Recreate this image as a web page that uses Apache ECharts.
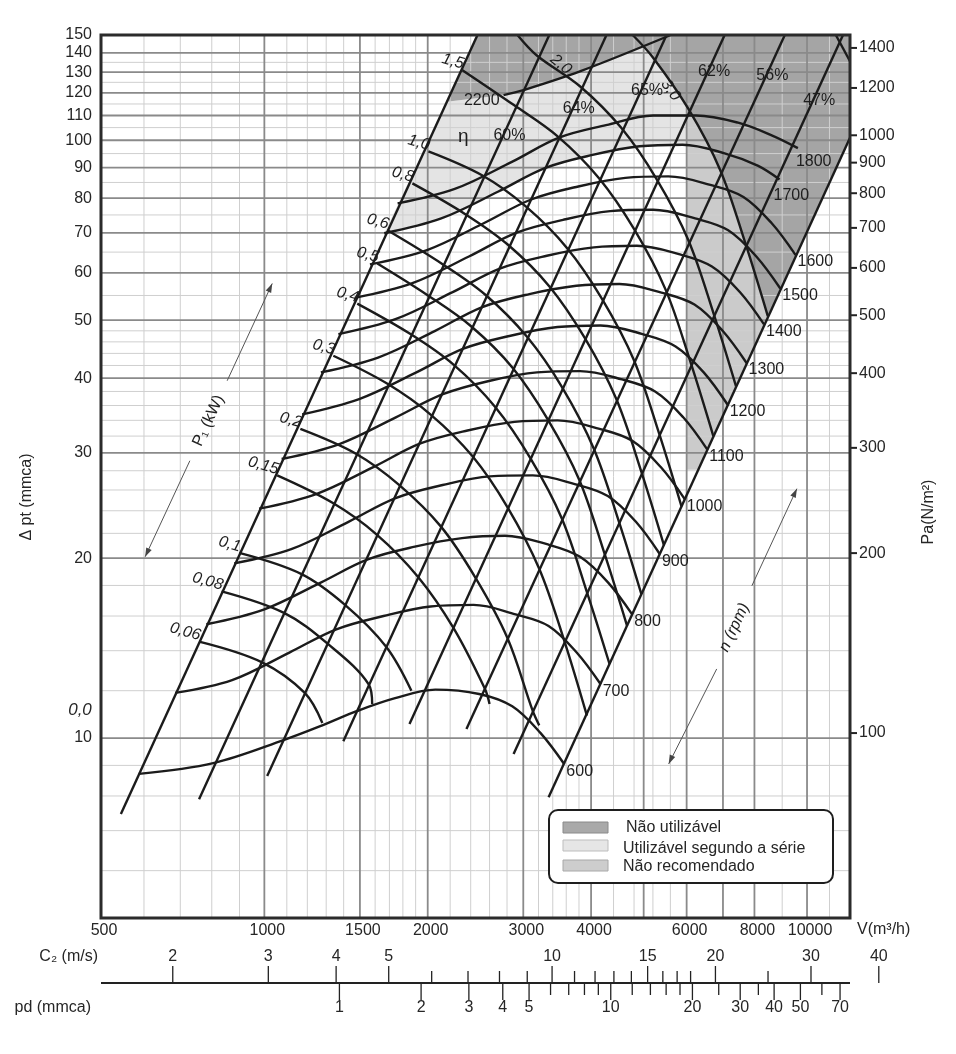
<!DOCTYPE html>
<html>
<head>
<meta charset="utf-8">
<title>Curva do ventilador</title>
<script src="https://cdn.jsdelivr.net/npm/echarts@6/dist/echarts.min.js"></script>
<style>
html,body{margin:0;padding:0;background:#ffffff;}
#chart{width:956px;height:1054px;}
</style>
</head>
<body>
<div id="chart"></div>
<script>
// ================= DATA =================
const X_RANGE = [500, 12000];      // V (m3/h)
const Y_RANGE = [5, 150];          // delta pt (mmca)
const PA_PER_MMCA = 9.81;          // right axis Pa = mmca * 9.81
const C2_PER_FLOW = 0.00295;       // C2 (m/s) per m3/h
const PD_REF_FLOW = 1375;          // flow where pd = 1 mmca

const xTicks = [500, 1000, 1500, 2000, 3000, 4000, 6000, 8000, 10000];
const yTicks = [10, 20, 30, 40, 50, 60, 70, 80, 90, 100, 110, 120, 130, 140, 150];
const paTicks = [100, 200, 300, 400, 500, 600, 700, 800, 900, 1000, 1200, 1400];

const xGridMajor = [1000, 1500, 2000, 3000, 4000, 5000, 6000, 7000, 8000, 10000];
const xGridMinor = [600, 700, 800, 900, 1100, 1200, 1300, 1400, 1600, 1700, 1800, 1900,
  2200, 2400, 2600, 2800, 3200, 3400, 3600, 3800, 4400, 4800, 5200, 5600, 9000, 11000];
const yGridMajor = [10, 20, 30, 40, 50, 60, 70, 80, 90, 100, 110, 120, 130, 140];
const yGridMinor = [6, 7, 8, 9, 12, 14, 16, 18, 22, 24, 26, 28, 32, 34, 36, 38, 42, 44, 46, 48,
  55, 65, 75, 85, 95, 105, 115, 125, 135];

const c2Major = [2, 3, 4, 5, 10, 15, 20, 30, 40];
const c2Minor = [6, 7, 8, 9, 11, 12, 13, 14, 16, 17, 18, 25];
const pdMajor = [1, 2, 3, 4, 5, 10, 20, 30, 40, 50, 70];
const pdMinor = [6, 7, 8, 9, 12, 14, 16, 18, 25, 35, 60];

// fan speed curves n (rpm): [V m3/h, delta pt mmca]
const n600 = [[587,8.71],[805,9.08],[1088,9.93],[1279,10.5],[1483,11.1],[1735,11.65],[2066,12.05],[2488,11.85],[2863,11.3],[3226,10.2],[3571,9.04]];
const n700 = [[685,11.9],[872,12.5],[1112,13.9],[1357,15.2],[1658,16.0],[2024,16.6],[2429,16.7],[2903,16.1],[3340,15.4],[3763,13.9],[4166,12.3]];
const n800 = [[782,15.5],[997,16.4],[1270,18.2],[1551,19.9],[1894,20.9],[2313,21.6],[2776,21.8],[3318,21.1],[3817,20.1],[4301,18.2],[4762,16.1]];
const n900 = [[880,19.6],[1121,20.7],[1429,23.0],[1745,25.2],[2131,26.5],[2602,27.4],[3123,27.5],[3732,26.6],[4294,25.4],[4838,23.0],[5357,20.3]];
const n1000 = [[978,24.2],[1246,25.6],[1588,28.4],[1939,31.1],[2368,32.7],[2891,33.8],[3470,34.0],[4147,32.9],[4771,31.4],[5376,28.4],[5952,25.1]];
const n1100 = [[1076,29.3],[1371,31.0],[1747,34.4],[2133,37.6],[2605,39.6],[3180,40.9],[3817,41.1],[4562,39.8],[5248,38.0],[5914,34.4],[6547,30.4]];
const n1200 = [[1174,34.8],[1495,36.9],[1906,40.9],[2327,44.8],[2842,47.1],[3469,48.7],[4164,49.0],[4976,47.4],[5725,45.2],[6451,40.9],[7142,36.1]];
const n1300 = [[1271,40.9],[1620,43.3],[2064,48.0],[2521,52.6],[3078,55.3],[3758,57.1],[4511,57.5],[5391,55.6],[6202,53.1],[6989,48.0],[7738,42.4]];
const n1400 = [[1369,47.4],[1744,50.2],[2223,55.7],[2715,61.0],[3315,64.1],[4047,66.2],[4858,66.6],[5806,64.5],[6679,61.5],[7526,55.7],[8333,49.2]];
const n1500 = [[1467,54.5],[1869,57.6],[2382,63.9],[2909,70.0],[3552,73.6],[4337,76.1],[5205,76.5],[6221,74.0],[7157,70.7],[8064,63.9],[8928,56.5]];
const n1600 = [[1565,62.0],[1994,65.5],[2541,72.7],[3102,79.6],[3789,83.7],[4626,86.5],[5552,87.0],[6635,84.2],[7634,80.4],[8602,72.7],[9523,64.3]];
const n1700 = [[1663,69.9],[2118,74.0],[2700,82.1],[3296,89.9],[4026,94.5],[4915,97.7],[5899,98.3],[7050,95.1],[8111,90.7],[8900,86.0]];
const n1800 = [[1760,78.4],[2243,82.9],[2858,92.0],[3490,101],[4262,106],[5204,110],[6246,110],[7465,107],[8588,102],[9620,97.0]];
const n2200a = [[2759,119],[3003,121.3],[3825,130.5],[5609,150]];
const n2200b = [[11300,150],[12000,135.6]];
const rpmNames = ['600','700','800','900','1000','1100','1200','1300','1400','1500','1600','1700','1800'];

// efficiency / system lines (straight in log-log)
const effLB = [[544,7.46],[2470,150]];
const eff60 = [[758,7.90],[3350,150]];
const eff64 = [[1012,8.64],[4270,150]];
const eff65 = [[1398,9.88],[5510,150]];
const eff62 = [[1851,10.56],[7050,150]];
const eff56 = [[2357,10.35],[9100,150]];
const eff47 = [[2879,9.40],[11650,150]];
const effRB = [[3340,7.96],[12000,101]];
const effNames = ['60%','64%','65%','62%','56%','47%'];
const effLabelDp = [102, 113, 121, 130.5, 128.5, 116.7];

// absorbed power curves P1 (kW)
const pw006 = [[758,14.5],[988,13.4],[1187,11.9],[1279,10.6]];
const pw008 = [[834,17.6],[1087,16.2],[1306,14.4],[1557,12.3],[1580,11.4]];
const pw01 = [[899,20.4],[1171,18.8],[1408,16.7],[1678,14.2],[1866,12.0]];
const pw015 = [[1056,27.5],[1340,24.7],[1611,21.9],[1920,18.6],[2229,15.3],[2548,12.1],[2600,11.4]];
const pw02 = [[1165,32.9],[1475,29.9],[1773,26.5],[2114,22.6],[2453,18.5],[2805,14.7],[3123,11.1],[3210,10.5]];
const pw03 = [[1340,43.6],[1689,39.1],[2030,34.7],[2419,29.6],[2808,24.3],[3210,19.2],[3574,14.5],[3930,10.9]];
const pw04 = [[1483,53.3],[1859,47.4],[2234,42.1],[2663,35.8],[3091,29.4],[3533,23.3],[3934,17.5],[4326,13.3]];
const pw05 = [[1615,62.2],[2002,55.0],[2407,48.8],[2869,41.6],[3330,34.1],[3807,27.0],[4238,20.3],[4660,15.4]];
const pw06 = [[1686,70.7],[2127,62.1],[2557,55.1],[3048,46.9],[3538,38.6],[4045,30.5],[4503,23.0],[4952,17.4]];
const pw08 = [[1874,84.7],[2342,75.3],[2815,66.8],[3355,56.9],[3894,46.7],[4452,36.9],[4957,27.8],[5450,21.0]];
const pw10 = [[2006,95.8],[2523,87.3],[3032,77.5],[3614,66.0],[4195,54.2],[4796,42.9],[5340,32.3],[5871,24.4]];
const pw15 = [[2317,131],[2888,114.4],[3471,101.5],[4137,86.4],[4802,71.0],[5490,56.2],[6112,42.3],[6720,32.0]];
const pw20 = [[2927,150],[3178,138.6],[3820,123.0],[4554,104.7],[5285,86.0],[6042,68.1],[6727,51.3],[7397,38.8]];
const pw30 = [[4772,150],[5213,137.2],[6050,112.7],[6917,89.2],[7700,67.2],[8467,50.8]];
const powerNames = ['0,06','0,08','0,1','0,15','0,2','0,3','0,4','0,5','0,6','0,8','1,0','1,5','2,0','3,0'];

// shaded zones
const zoneDarkTop = [[2168,116],[2759,119],[3003,121.3],[3825,130.5],[5609,150],[2470,150]];
const zoneDarkRight = [[4772,150],[5213,137.2],[6050,112.7],[6917,89.2],[7700,67.2],[8467,50.8],[12000,101],[12000,150]];
const zoneLight = [[1663,69.9],[2168,116],[2759,119],[3003,121.3],[3825,130.5],[4970,143.3],[5213,137.2],[6000,114.2],
  [6000,98.2],[5899,98.3],[4915,97.7],[4026,94.5],[3296,89.9],[2700,82.1],[2118,74.0]];
const zoneNotRec = [[6000,114.2],[6050,112.7],[6917,89.2],[7700,67.2],[8467,50.8],[6316,28.1],[6000,28.1]];

// annotation arrows (data space)
const arrowP = [[603,20.1],[729,29.1],[854,39.6],[1034,57.6]];
const arrowN = [[5560,9.05],[6816,13.05],[7912,17.97],[9578,26.13]];

// ================= RENDER =================
const FONT = "'Liberation Sans', Arial, Helvetica, sans-serif";
const INK = '#1b1b1b';
const COL_DARK = '#a5a5a5', COL_LIGHT = '#e4e4e4', COL_MED = '#cbcbcb';
const FS = 16;

function T(x, y, text, o) {
  o = o || {};
  const font = (o.italic ? 'italic ' : '') + (o.size || FS) + 'px ' + FONT;
  return {type: 'text', x: x, y: y, rotation: o.rot || 0, z2: 10,
    style: {text: text, fill: o.color || '#262626', font: font,
      align: o.align || 'center', verticalAlign: o.va || 'middle',
      textAlign: o.align || 'center', textVerticalAlign: o.va || 'middle'}};
}

const series = [];

function polygonSeries(points, color, z) {
  series.push({type: 'custom', silent: true, z: z, clip: true, data: [points[0]],
    renderItem: function (params, api) {
      return {type: 'polygon', shape: {points: points.map(function (p) { return api.coord(p); })},
        style: {fill: color, stroke: null}};
    }});
}
polygonSeries(zoneLight, COL_LIGHT, 1);
polygonSeries(zoneNotRec, COL_MED, 1);
polygonSeries(zoneDarkTop, COL_DARK, 1);
polygonSeries(zoneDarkRight, COL_DARK, 1);

function gridSeries(values, vertical, color, width, z) {
  series.push({type: 'custom', silent: true, z: z, clip: true,
    data: values.map(function (v) { return vertical ? [v, Y_RANGE[0]] : [X_RANGE[0], v]; }),
    renderItem: function (params, api) {
      const v = api.value(vertical ? 0 : 1);
      const a = vertical ? api.coord([v, Y_RANGE[0]]) : api.coord([X_RANGE[0], v]);
      const b = vertical ? api.coord([v, Y_RANGE[1]]) : api.coord([X_RANGE[1], v]);
      return {type: 'line', shape: {x1: a[0], y1: a[1], x2: b[0], y2: b[1]},
        style: {stroke: color, lineWidth: width}};
    }});
}
gridSeries(xGridMinor, true, '#cfcfcf', 1, 2);
gridSeries(yGridMinor, false, '#cfcfcf', 1, 2);
gridSeries(xGridMajor, true, '#8a8a8a', 1.8, 3);
gridSeries(yGridMajor, false, '#8a8a8a', 1.8, 3);

function curve(data, smooth, width) {
  series.push({type: 'line', data: data, showSymbol: false, symbol: 'none', silent: true,
    smooth: smooth ? 0.35 : false, clip: true, z: 5,
    lineStyle: {color: INK, width: width || 2.4}});
}
const rpmCurves = [n600, n700, n800, n900, n1000, n1100, n1200, n1300, n1400, n1500, n1600, n1700, n1800];
rpmCurves.forEach(function (c) { curve(c, true); });
curve(n2200a, true); curve(n2200b, false);
const effLines = [effLB, eff60, eff64, eff65, eff62, eff56, eff47, effRB];
effLines.forEach(function (c) { curve(c, false); });
const powerCurves = [pw006, pw008, pw01, pw015, pw02, pw03, pw04, pw05, pw06, pw08, pw10, pw15, pw20, pw30];
powerCurves.forEach(function (c) { curve(c, true); });

// ---- labels on the plot ----
const labels = [];
powerCurves.forEach(function (c, i) {
  if (i < 12) labels.push({at: c[0], text: powerNames[i], dx: -1, dy: 2, align: 'right', va: 'bottom', italic: true, rot: -0.27});
});
labels.push({at: pw20[1], text: powerNames[12], dx: 24, dy: 9, italic: true, rot: -0.7});
labels.push({at: pw30[1], text: powerNames[13], dx: 17, dy: 32, italic: true, rot: -0.95});
const rpmOffsets = {'1700': [-6, 16], '1800': [-2, 13]};
rpmCurves.forEach(function (c, i) {
  const off = rpmOffsets[rpmNames[i]] || [2, 7];
  labels.push({at: c[c.length - 1], text: rpmNames[i], dx: off[0], dy: off[1], align: 'left'});
});
labels.push({at: n2200a[0], text: '2200', dx: -4, dy: 5, align: 'right'});
function pointOnLine(line, p) {
  const a = line[0], b = line[1];
  const e = Math.log(b[0] / a[0]) / Math.log(b[1] / a[1]);
  return [a[0] * Math.pow(p / a[1], e), p];
}
[eff60, eff64, eff65, eff62, eff56, eff47].forEach(function (l, i) {
  labels.push({at: pointOnLine(l, effLabelDp[i]), text: effNames[i], dx: 6, dy: 0});
});
labels.push({at: pointOnLine(eff60, effLabelDp[0]), text: 'η', dx: -40, dy: 2, size: 19});

series.push({type: 'custom', silent: true, z: 8, clip: false,
  data: labels.map(function (l) { return l.at; }),
  renderItem: function (params, api) {
    const l = labels[params.dataIndex];
    const pt = api.coord(l.at);
    return T(pt[0] + l.dx, pt[1] + l.dy, l.text, {align: l.align, va: l.va, italic: l.italic, rot: l.rot, size: l.size || FS, color: '#1e1e1e'});
  }});

// ---- annotation arrows ----
function arrowSeries(pts, text) {
  series.push({type: 'custom', silent: true, z: 7, clip: false, data: [pts[0]],
    renderItem: function (params, api) {
      const P = pts.map(function (p) { return api.coord(p); });
      const ang = Math.atan2(P[3][1] - P[0][1], P[3][0] - P[0][0]);
      function head(tip, dir) {
        const L = 9, W = 3;
        const ux = Math.cos(dir), uy = Math.sin(dir);
        return {type: 'polygon', shape: {points: [tip,
          [tip[0] - ux * L - uy * W, tip[1] - uy * L + ux * W],
          [tip[0] - ux * L + uy * W, tip[1] - uy * L - ux * W]]}, style: {fill: '#444'}};
      }
      const mid = [(P[1][0] + P[2][0]) / 2, (P[1][1] + P[2][1]) / 2];
      return {type: 'group', children: [
        {type: 'line', shape: {x1: P[0][0], y1: P[0][1], x2: P[1][0], y2: P[1][1]}, style: {stroke: '#555', lineWidth: 1}},
        {type: 'line', shape: {x1: P[2][0], y1: P[2][1], x2: P[3][0], y2: P[3][1]}, style: {stroke: '#555', lineWidth: 1}},
        head(P[0], ang + Math.PI), head(P[3], ang),
        T(mid[0], mid[1], text, {rot: -ang, size: FS, italic: text.charAt(0) === 'n', color: '#222'})
      ]};
    }});
}
arrowSeries(arrowP, 'P₁ (kW)');
arrowSeries(arrowN, 'n (rpm)');

// ---- axis labels ----
series.push({type: 'custom', silent: true, z: 9, clip: false,
  data: xTicks.map(function (v) { return [v, Y_RANGE[0]]; }),
  renderItem: function (params, api) {
    const pt = api.coord([api.value(0), Y_RANGE[0]]);
    return T(pt[0] + 3, pt[1] + 13, String(api.value(0)), {});
  }});
series.push({type: 'custom', silent: true, z: 9, clip: false,
  data: yTicks.map(function (v) { return [X_RANGE[0], v]; }),
  renderItem: function (params, api) {
    const pt = api.coord([X_RANGE[0], api.value(1)]);
    return T(pt[0] - 9, pt[1], String(api.value(1)), {align: 'right'});
  }});
series.push({type: 'custom', silent: true, z: 9, clip: false, yAxisIndex: 1,
  data: paTicks.map(function (v) { return [X_RANGE[1], v]; }),
  renderItem: function (params, api) {
    const pt = api.coord([X_RANGE[1], api.value(1)]);
    return {type: 'group', children: [
      {type: 'line', shape: {x1: pt[0], y1: pt[1], x2: pt[0] + 7, y2: pt[1]}, style: {stroke: '#222', lineWidth: 2}},
      T(pt[0] + 9, pt[1], String(api.value(1)), {align: 'left'})
    ]};
  }});

// ---- bottom scales C2 and pd ----
function scaleSeries(values, axisIndex, up, len, withLabel) {
  series.push({type: 'custom', silent: true, z: 9, clip: false, xAxisIndex: axisIndex,
    data: values.map(function (v) { return [v, Y_RANGE[0]]; }),
    renderItem: function (params, api) {
      const v = api.value(0);
      const pt = api.coord([v, Y_RANGE[0]]);
      const base = pt[1] + 65;
      const y2 = up ? base - len : base + len;
      const ch = [{type: 'line', shape: {x1: pt[0], y1: base, x2: pt[0], y2: y2}, style: {stroke: '#222', lineWidth: 1.3}}];
      if (withLabel) ch.push(T(pt[0], up ? base - 26 : base + 25, String(v), {}));
      return {type: 'group', children: ch};
    }});
}
scaleSeries(c2Major, 1, true, 17, true);
scaleSeries(c2Minor, 1, true, 12, false);
scaleSeries(pdMajor, 2, false, 17, true);
scaleSeries(pdMinor, 2, false, 12, false);
series.push({type: 'custom', silent: true, z: 9, clip: false, data: [[X_RANGE[0], Y_RANGE[0]]],
  renderItem: function (params, api) {
    const a = api.coord([X_RANGE[0], Y_RANGE[0]]), b = api.coord([X_RANGE[1], Y_RANGE[0]]);
    return {type: 'line', shape: {x1: a[0], y1: a[1] + 65, x2: b[0], y2: b[1] + 65}, style: {stroke: '#222', lineWidth: 2}};
  }});

// ---- plot frame ----
series.push({type: 'custom', silent: true, z: 12, clip: false, data: [[X_RANGE[0], Y_RANGE[0]]],
  renderItem: function (params, api) {
    const a = api.coord([X_RANGE[0], Y_RANGE[1]]), b = api.coord([X_RANGE[1], Y_RANGE[0]]);
    return {type: 'rect', shape: {x: a[0], y: a[1], width: b[0] - a[0], height: b[1] - a[1]},
      style: {fill: null, stroke: '#2b2b2b', lineWidth: 3}};
  }});

function G(x, y, text, o) { const t = T(x, y, text, o); t.zlevel = 1; t.z = 50; return t; }

const option = {
  animation: false,
  backgroundColor: '#ffffff',
  grid: {left: 101, top: 35, right: 106, bottom: 136, show: false},
  xAxis: [
    {type: 'log', logBase: 10, min: X_RANGE[0], max: X_RANGE[1], show: false},
    {type: 'log', logBase: 10, min: X_RANGE[0] * C2_PER_FLOW, max: X_RANGE[1] * C2_PER_FLOW, show: false},
    {type: 'log', logBase: 10, min: Math.pow(X_RANGE[0] / PD_REF_FLOW, 2), max: Math.pow(X_RANGE[1] / PD_REF_FLOW, 2), show: false}
  ],
  yAxis: [
    {type: 'log', logBase: 10, min: Y_RANGE[0], max: Y_RANGE[1], show: false},
    {type: 'log', logBase: 10, min: Y_RANGE[0] * PA_PER_MMCA, max: Y_RANGE[1] * PA_PER_MMCA, show: false}
  ],
  graphic: {elements: [
    G(27, 497, 'Δ pt (mmca)', {rot: Math.PI / 2}),
    G(929, 512, 'Pa(N/m²)', {rot: Math.PI / 2}),
    G(857, 930, 'V(m³/h)', {align: 'left'}),
    G(98, 957, 'C₂ (m/s)', {align: 'right'}),
    G(91, 1008, 'pd (mmca)', {align: 'right'}),
    G(80, 710, '0,0', {italic: true, size: 17}),
    {type: 'group', zlevel: 1, z: 50, children: [
      {type: 'rect', zlevel: 1, z: 50, shape: {x: 549, y: 810, width: 284, height: 73, r: 9}, style: {fill: '#ffffff', stroke: '#1e1e1e', lineWidth: 2}},
      {type: 'rect', zlevel: 1, z: 51, shape: {x: 563, y: 822, width: 45, height: 11}, style: {fill: '#a9a9a9', stroke: '#8a8a8a', lineWidth: 1}},
      {type: 'rect', zlevel: 1, z: 51, shape: {x: 563, y: 840, width: 45, height: 11}, style: {fill: '#e6e6e6', stroke: '#bdbdbd', lineWidth: 1}},
      {type: 'rect', zlevel: 1, z: 51, shape: {x: 563, y: 860, width: 45, height: 11}, style: {fill: '#cdcdcd', stroke: '#a8a8a8', lineWidth: 1}},
      G(626, 828, 'Não utilizável', {align: 'left'}),
      G(623, 849, 'Utilizável segundo a série', {align: 'left'}),
      G(623, 867, 'Não recomendado', {align: 'left'})
    ]}
  ]},
  series: series
};

const chart = echarts.init(document.getElementById('chart'), null, {renderer: 'canvas'});
chart.setOption(option);
</script>
</body>
</html>
